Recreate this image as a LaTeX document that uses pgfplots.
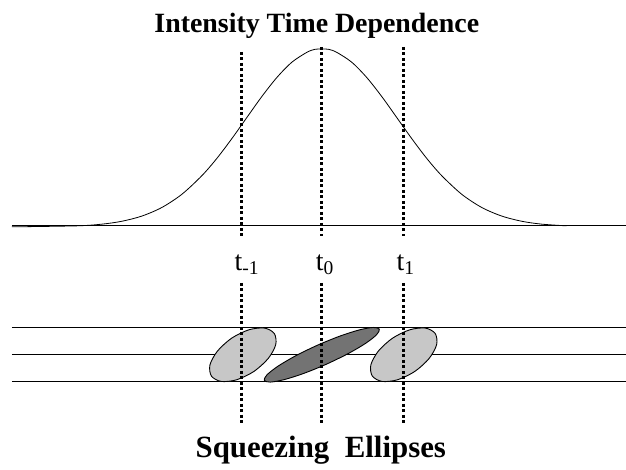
\documentclass[border=0pt]{standalone}
\usepackage{fontspec}
\setmainfont{Liberation Serif}
\usepackage{pgfplots}
\pgfplotsset{compat=1.18}
\begin{document}
\begin{tikzpicture}
\begin{axis}[
  scale only axis, width=626bp, height=470bp,
  xmin=0, xmax=626, ymin=0, ymax=470,
  axis lines=none, clip=false,
  dotv/.style={black, line width=3bp, dash pattern=on 3bp off 2.5bp},
  hl/.style={black, line width=0.8bp},
]
% Gaussian intensity profile
\addplot[black, line width=0.8bp, smooth] coordinates {
 (12,243) (77,244.0) (102,245.7) (122,248.6) (142,253.8) (162,262.4) (182,275.6)
 (202,294.2) (217,311.5) (232,331.3) (247,352.4) (262,373.4) (277,392.4)
 (292,407.7) (307,417.6) (315,420.6) (322,421) (329,420.6) (337,417.6) (352,407.7) (367,392.4)
 (382,373.4) (397,352.4) (412,331.3) (427,311.5) (442,294.2) (462,275.6)
 (482,262.4) (502,253.8) (522,248.6) (542,245.7) (567,244.0)
};
% baseline and lower horizontal lines
\addplot[hl] coordinates {(12,244) (626,244)};
\addplot[hl] coordinates {(12,142) (626,142)};
\addplot[hl] coordinates {(12,115) (626,115)};
\addplot[hl] coordinates {(12,88) (626,88)};
% ellipses
\addplot[black, line width=0.9bp, fill=black!22, smooth cycle] coordinates {
 (274.5,136.25) (264.7,141.7) (249.1,140.0) (231.8,131.6) (217.6,118.7) (210.1,104.9)
 (211.5,93.75) (221.3,88.3) (236.9,90.0) (254.2,98.4) (268.4,111.3) (275.9,125.1)
} -- cycle;
\addplot[black, line width=0.9bp, fill=black!22, smooth cycle] coordinates {
 (435.5,136.25) (425.7,141.7) (410.1,140.0) (392.8,131.6) (378.6,118.7) (371.1,104.9)
 (372.5,93.75) (382.3,88.3) (397.9,90.0) (415.2,98.4) (429.4,111.3) (436.9,125.1)
} -- cycle;
\addplot[black, line width=0.9bp, fill=black!55, smooth cycle] coordinates {
 (379.55,140.62) (373.54,142.34) (359.67,139.90) (340.07,133.66) (317.73,124.59)
 (296.03,114.06) (278.29,103.66) (267.2,95.0) (264.45,89.38) (270.46,87.66)
 (284.33,90.1) (303.93,96.34) (326.27,105.41) (347.97,115.94) (365.71,126.34) (376.8,135.0)
} -- cycle;
% dotted time markers
\addplot[dotv] coordinates {(242,418) (242,234)};
\addplot[dotv] coordinates {(322,423) (322,234)};
\addplot[dotv] coordinates {(404,423) (404,234)};
\addplot[dotv] coordinates {(242,187) (242,46)};
\addplot[dotv] coordinates {(322,187) (322,46)};
\addplot[dotv] coordinates {(404,187) (404,46)};
% labels
\node[anchor=base, font=\fontsize{28}{30}\selectfont\bfseries] at (axis cs:317,437) {Intensity Time Dependence};
\node[anchor=base, font=\fontsize{31}{34}\selectfont\bfseries] at (axis cs:321,12) {Squeezing\ \ Ellipses};
\node[font=\fontsize{28}{30}\selectfont] at (axis cs:247,205) {t\textsubscript{-1}};
\node[font=\fontsize{28}{30}\selectfont] at (axis cs:325,205) {t\textsubscript{0}};
\node[font=\fontsize{28}{30}\selectfont] at (axis cs:406,205) {t\textsubscript{1}};
\path (axis cs:0,0) rectangle (axis cs:626,470);
\end{axis}
\end{tikzpicture}
\end{document}
